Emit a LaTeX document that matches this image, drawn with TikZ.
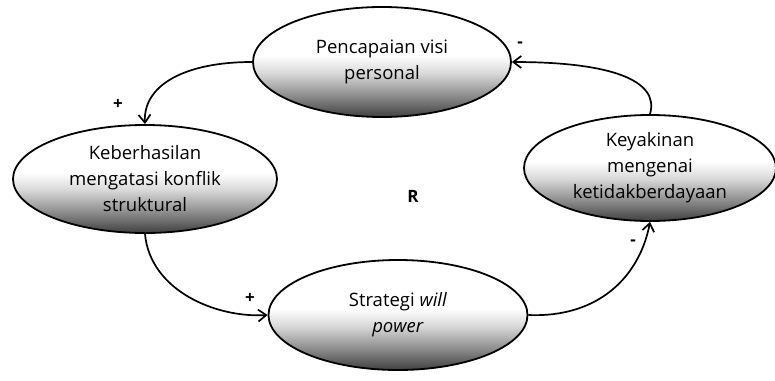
\documentclass[tikz,border=0pt]{standalone}
\usepackage{fontspec}
\setmainfont{Open Sans}
\usetikzlibrary{shapes.geometric,arrows.meta}
% vertical shading: dark at the bottom, fading to white above the middle
\pgfdeclareverticalshading{ellshade}{100bp}{%
  color(0bp)=(black!75); color(25bp)=(black!75); color(33bp)=(black!50);
  color(45bp)=(black!15); color(53bp)=(white); color(100bp)=(white)}
\tikzset{
  loopnode/.style={ellipse, draw=black, line width=1.8pt, shading=ellshade,
    inner sep=0pt, align=center, font=\fontsize{18.5}{26}\selectfont},
  link/.style={line width=1.7pt, -{Straight Barb[length=8pt,width=12pt,line width=1.7pt]}},
  sign/.style={font=\fontsize{17}{17}\selectfont\bfseries}
}
\begin{document}
\begin{tikzpicture}[x=1pt,y=-1pt]
\useasboundingbox (0,0) rectangle (775,380);
\node[loopnode, minimum width=258pt, minimum height=110pt] (visi) at (382,62)
  {Pencapaian visi\\personal};
\node[loopnode, minimum width=264pt, minimum height=108pt] (konflik) at (145,179)
  {Keberhasilan\\mengatasi konflik\\struktural};
\node[loopnode, minimum width=252pt, minimum height=106pt] (yakin) at (650,168)
  {Keyakinan\\mengenai\\ketidakberdayaan};
\node[loopnode, minimum width=259pt, minimum height=110pt] (strategi) at (398,315)
  {Strategi \textit{will}\\\textit{power}};
\node[font=\fontsize{17}{17}\selectfont\bfseries] (r) at (413,196) {R};

\draw[link] (visi.west) .. controls (185,62) and (143,85) .. (konflik.north);
\draw[link] (konflik.south) .. controls (150,290) and (215,318) .. (strategi.west);
\draw[link] (strategi.east) .. controls (600,318) and (640,275) .. (yakin.south);
\draw[link] (yakin.north) .. controls (660,80) and (610,62) .. (visi.east);

\node[sign] (p1) at (118,104) {+};
\node[sign] (p2) at (250,298) {+};
\node[sign] (m1) at (633,243) {-};
\node[sign] (m2) at (520,45) {-};
\end{tikzpicture}
\end{document}
